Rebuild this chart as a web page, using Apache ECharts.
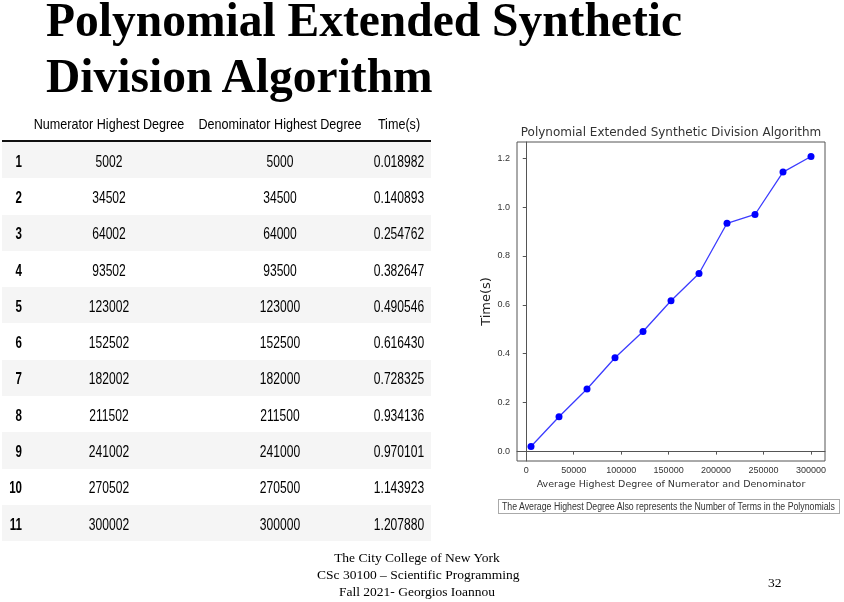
<!DOCTYPE html>
<html>
<head>
<meta charset="utf-8">
<script src="https://cdn.jsdelivr.net/npm/echarts@6/dist/echarts.min.js"></script>
<style>
  html, body { margin:0; padding:0; background:#fff; }
  body { width:844px; height:602px; position:relative; overflow:hidden; }
  #chart { position:absolute; left:0; top:0; width:844px; height:602px; z-index:0; }
  #slide { position:absolute; left:0; top:0; width:844px; height:602px; z-index:1; pointer-events:none; }
  #title { position:absolute; left:46px; top:-8px; font-family:"Liberation Serif","Times New Roman",serif; font-weight:bold; font-size:47.5px; line-height:56px; color:#000; white-space:nowrap; }
  .t { position:absolute; white-space:nowrap; line-height:1; font-family:"Liberation Sans",Arial,sans-serif; color:#000; }
  .band { position:absolute; left:2px; width:429px; background:#f5f5f5; }
  #hline { position:absolute; left:2px; width:429px; top:140px; height:2px; background:#111; }
  #caption { position:absolute; left:498px; top:499px; width:342px; height:15px; border:1px solid #aaa; box-sizing:border-box; overflow:hidden; background:#fff; }
  #caption span { position:absolute; left:3px; top:1px; font-family:"Liberation Sans",Arial,sans-serif; font-size:10px; line-height:12px; color:#333; white-space:nowrap; transform:scaleX(0.875); transform-origin:left center; }
  #footer { position:absolute; left:317px; width:200px; top:549px; text-align:center; font-family:"Liberation Serif","Times New Roman",serif; font-size:13.5px; line-height:17px; color:#000; white-space:nowrap; }
  #page { position:absolute; left:768px; top:575px; font-family:"Liberation Serif","Times New Roman",serif; font-size:13.5px; color:#000; }
</style>
</head>
<body>
<div id="chart"></div>
<div id="slide">
  <div id="title">Polynomial Extended Synthetic<br>Division Algorithm</div>
  <div id="hline"></div>
  <div id="caption"><span>The Average Highest Degree Also represents the Number of Terms in the Polynomials</span></div>
  <div id="footer">The City College of New York<br>CSc 30100 – Scientific Programming<br>Fall 2021- Georgios Ioannou</div>
  <div id="page">32</div>
</div>
<script>
const headers = ["", "Numerator Highest Degree", "Denominator Highest Degree", "Time(s)"];
const rowIndex = [1,2,3,4,5,6,7,8,9,10,11];
const numeratorDegree = [5002,34502,64002,93502,123002,152502,182002,211502,241002,270502,300002];
const denominatorDegree = [5000,34500,64000,93500,123000,152500,182000,211500,241000,270500,300000];
const timeSec = ["0.018982","0.140893","0.254762","0.382647","0.490546","0.616430","0.728325","0.934136","0.970101","1.143923","1.207880"];
const xTicks = [0,50000,100000,150000,200000,250000,300000];
const yTicks = [0.0,0.2,0.4,0.6,0.8,1.0,1.2];
const chartTitle = 'Polynomial Extended Synthetic Division Algorithm';
const xName = 'Average Highest Degree of Numerator and Denominator';
const yName = 'Time(s)';

// ---- table (HTML text) ----
const slide = document.getElementById('slide');
const colX = [22, 109, 280, 399];
const rowTop = 142, rowH = 36.3;
function addText(txt, x, y, opts) {
  const d = document.createElement('div');
  d.className = 't';
  d.textContent = txt;
  d.style.left = x + 'px';
  d.style.top = y + 'px';
  d.style.fontSize = opts.size + 'px';
  if (opts.bold) d.style.fontWeight = 'bold';
  if (opts.right) {
    d.style.transformOrigin = 'right center';
    d.style.transform = 'translate(-100%,-50%) scaleX(' + opts.sx + ')';
  } else {
    d.style.transform = 'translate(-50%,-50%) scaleX(' + opts.sx + ')';
  }
  slide.appendChild(d);
}
rowIndex.forEach((r, i) => {
  if (i % 2 === 0) {
    const b = document.createElement('div');
    b.className = 'band';
    b.style.top = (rowTop + rowH * i) + 'px';
    b.style.height = rowH + 'px';
    slide.insertBefore(b, slide.firstChild);
  }
});
headers.forEach((h, c) => { if (h) addText(h, colX[c], 123, {size:15, sx:0.84}); });
rowIndex.forEach((r, i) => {
  const cy = rowTop + rowH * i + rowH / 2 + 0.5;
  addText(String(r), colX[0], cy, {size:17, sx:0.68, bold:true, right:true});
  addText(String(numeratorDegree[i]), colX[1], cy, {size:17, sx:0.71});
  addText(String(denominatorDegree[i]), colX[2], cy, {size:17, sx:0.71});
  addText(timeSec[i], colX[3], cy, {size:17, sx:0.71});
});

// ---- chart ----
const points = rowIndex.map((r, i) => [(numeratorDegree[i] + denominatorDegree[i]) / 2, parseFloat(timeSec[i])]);
const plotL = 517, plotR = 825, plotT = 142, plotB = 461;
const ctx = document.createElement('canvas').getContext('2d');
ctx.font = '12px "DejaVu Sans"';
const titleW = ctx.measureText(chartTitle).width;

const chart = echarts.init(document.getElementById('chart'));
const tickFont = {fontFamily:'Liberation Sans', fontSize:9, color:'#333'};
chart.setOption({
  animation:false,
  title:{ text:chartTitle, left:(plotL + plotR) / 2 - titleW / 2, top:127, padding:0,
    textStyle:{fontFamily:'DejaVu Sans', fontSize:12, fontWeight:'normal', color:'#333', lineHeight:12} },
  grid:{ left:plotL, right:844 - plotR, top:plotT, bottom:602 - plotB, outerBoundsMode:'none', containLabel:false,
    show:true, borderColor:'#555', borderWidth:1, backgroundColor:'#fff' },
  xAxis:{ type:'value', min:-9750, max:314750,
    name:xName, nameLocation:'middle', nameGap:17,
    nameTextStyle:{fontFamily:'DejaVu Sans', fontSize:9.5, color:'#333'},
    axisLine:{show:true, lineStyle:{color:'#555'}},
    axisTick:{show:true, length:3.5, lineStyle:{color:'#555'}, customValues:xTicks},
    axisLabel:Object.assign({margin:5, customValues:xTicks, formatter:v => String(v)}, tickFont),
    splitLine:{show:false} },
  yAxis:{ type:'value', min:-0.0405, max:1.2673,
    name:yName, nameLocation:'middle', nameGap:24, nameRotate:90,
    nameTextStyle:{fontFamily:'DejaVu Sans', fontSize:13, color:'#222'},
    axisLine:{show:true, lineStyle:{color:'#555'}},
    axisTick:{show:true, length:3.5, lineStyle:{color:'#555'}, customValues:yTicks},
    axisLabel:Object.assign({margin:7, customValues:yTicks, formatter:v => v.toFixed(1)}, tickFont),
    splitLine:{show:false} },
  series:[{ type:'line', data:points, symbol:'circle', symbolSize:7,
    lineStyle:{color:'#3c3cff', width:1.3}, itemStyle:{color:'#0000ff'} }]
});
</script>
</body>
</html>
